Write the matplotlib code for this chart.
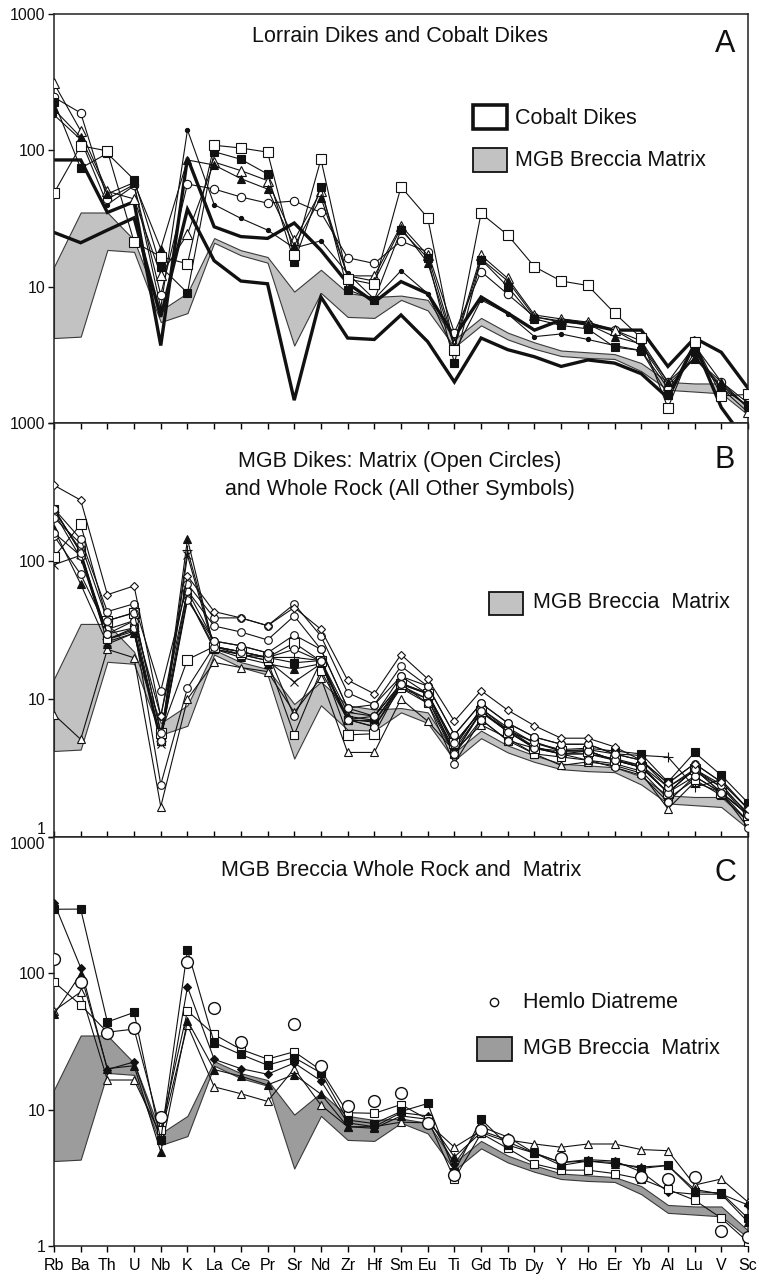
import matplotlib
matplotlib.use('Agg')
import matplotlib.pyplot as plt
import numpy as np
from matplotlib.patches import Rectangle
from matplotlib.lines import Line2D
from matplotlib.ticker import FixedLocator, NullLocator, FixedFormatter

plt.rcParams['font.family'] = ['Liberation Sans', 'DejaVu Sans']

# ---------------- data ----------------
ELEMENTS = ['Rb', 'Ba', 'Th', 'U', 'Nb', 'K', 'La', 'Ce', 'Pr', 'Sr', 'Nd', 'Zr', 'Hf', 'Sm',
            'Eu', 'Ti', 'Gd', 'Tb', 'Dy', 'Y', 'Ho', 'Er', 'Yb', 'Al', 'Lu', 'V', 'Sc']
YTICKS = [1, 10, 100, 1000]
YTICK_LABELS = ['1', '10', '100', '1000']

# MGB Breccia Matrix envelope
BAND_UPPER = [14, 35, 35, 22, 6.7, 9.0, 22.7, 18.5, 16.5, 9.2, 13.3, 9.0, 8.4, 8.6, 8.0,
              4.1, 5.9, 4.6, 3.9, 3.4, 3.3, 3.2, 2.75, 2.0, 1.95, 1.95, 1.3]
BAND_LOWER = [4.2, 4.3, 18.6, 18.0, 5.5, 6.4, 21.0, 17.0, 15.0, 3.7, 9.0, 6.0, 5.9, 8.0, 6.7,
              3.6, 5.2, 4.1, 3.5, 3.1, 3.0, 2.95, 2.4, 1.75, 1.7, 1.65, 1.15]

# Panel A: Cobalt dikes envelope (thick lines)
A_COBALT_UPPER = [85, 85, 35, 42, 3.7, 88, 27.5, 23.3, 22.6, 29.3, 18.5, 10.6, 7.7, 10.9, 8.9,
                  4.3, 8.4, 6.4, 4.8, 5.7, 5.3, 4.8, 4.8, 2.6, 4.2, 3.3, 1.8]
A_COBALT_LOWER = [25, 21, 26, 32, 6.0, 37, 15.5, 11, 10.5, 1.47, 8.4, 4.2, 4.1, 6.2, 3.95,
                  2.0, 4.2, 3.45, 3.06, 2.6, 2.9, 2.75, 2.3, 1.53, 3.8, 1.3, 0.7]
# Panel A: Lorrain dikes samples
A_OPEN_SQUARE = [48.6, 108, 99, 21.3, 16.6, 14.7, 109, 104, 97, 17, 86, 11.4, 10.4, 54, 32,
                 3.45, 34.5, 23.9, 14.0, 11.0, 10.2, 6.4, 4.2, 1.29, 3.9, 1.58, 1.62]
A_FILLED_SQUARE = [227, 74, 95, 61, 14.0, 9.0, 97.7, 86, 67, 15.2, 54, 9.5, 8.0, 26, 16.2,
                   2.75, 15.8, 10, 5.8, 5.2, 4.9, 3.6, 3.4, 1.6, 3.3, 1.8, 1.35]
A_FILLED_TRIANGLE = [200, 125, 48, 58, 19, 85, 78, 62, 52, 20, 45, 12, 11, 27, 15,
                     3.6, 16, 11, 6.0, 5.6, 5.3, 4.3, 3.8, 2.0, 3.0, 2.0, 1.3]
A_OPEN_TRIANGLE = [310, 139, 50, 44, 12.2, 24.3, 82, 71, 60, 22, 50, 12, 12, 28, 17,
                   3.8, 17, 11.5, 6.2, 5.8, 5.5, 4.8, 3.7, 1.9, 3.0, 1.8, 1.2]
A_OPEN_CIRCLE = [245, 188, 44, 56, 8.7, 56.6, 52, 45.5, 41, 42.5, 35, 16.3, 14.8, 21.6, 18.0,
                 4.6, 12.9, 8.8, 6.0, 5.5, 5.3, 4.8, 4.0, 2.0, 3.7, 2.0, 1.4]
A_SMALL_DOT = [182, 120, 40, 55, 7.0, 141, 40, 31.7, 26, 19.2, 21.7, 12.5, 8.1, 13.1, 8.9,
               3.3, 8.0, 6.3, 4.3, 4.5, 4.1, 3.7, 3.4, 1.8, 3.0, 1.9, 1.3]

# Panel B: MGB dikes
B_DIAMOND = [354, 276, 57, 66, 7.5, 78, 43, 38.7, 34, 46, 32, 13.7, 10.9, 21, 14,
             6.9, 11.5, 8.3, 6.4, 5.2, 5.2, 4.5, 3.6, 2.45, 3.4, 2.5, 1.6]
B_CIRCLE_1 = [239, 144, 43, 49, 11.5, 68, 38.7, 38.7, 34, 48.7, 28.6, 11.1, 9.1, 17.3, 12.4,
              5.5, 9.3, 6.7, 5.3, 4.7, 4.7, 4.0, 3.6, 2.3, 3.1, 2.4, 1.45]
B_CIRCLE_2 = [206, 133, 37, 42, 5.7, 61, 33.8, 30.6, 26.8, 40, 22.9, 8.6, 7.5, 14.6, 10.9,
              4.8, 8.2, 5.8, 4.9, 4.2, 4.2, 3.6, 3.2, 2.1, 2.75, 2.1, 1.45]
B_CIRCLE_3 = [152, 80, 32, 37, 5.0, 52, 26.3, 24.3, 21.6, 7.5, 18.8, 7.1, 6.3, 12.8, 9.3,
              3.4, 7.1, 5.0, 4.4, 4.0, 3.6, 3.2, 2.8, 1.8, 2.75, 2.1, 1.17]
B_CIRCLE_4 = [160, 109, 29.6, 32.8, 2.4, 12.0, 24, 22, 20, 22.9, 18.8, 7.1, 7.5, 12.8, 10.9,
              4.0, 8.2, 5.8, 4.4, 4.0, 4.2, 3.6, 3.2, 2.1, 3.1, 2.1, 1.45]
B_CIRCLE_5 = [239, 115, 29.6, 36.9, 7.5, 60.6, 26.3, 24.3, 21.6, 29.1, 22.9, 8.6, 9.1, 14.6, 12.4,
              5.5, 9.3, 6.7, 5.3, 4.7, 4.7, 4.0, 3.6, 2.45, 3.4, 2.5, 1.6]
B_OPEN_SQUARE_1 = [107, 184, 36.9, 42.3, 5.7, 19.3, 24, 22, 20, 25.5, 18.8, 5.5, 5.6, 12.8, 10.9,
                   4.8, 8.2, 5.8, 4.4, 4.2, 4.2, 3.6, 3.2, 2.1, 3.1, 2.1, 1.45]
B_OPEN_SQUARE_2 = [230, 120, 27, 32.8, 5.0, 55, 23, 21, 19, 5.5, 16, 7.1, 6.3, 12, 9.3,
                   4.0, 7.1, 5.0, 4.0, 3.8, 3.6, 3.4, 3.0, 1.9, 2.6, 2.0, 1.3]
B_FILLED_SQUARE = [240, 115, 27, 32, 5.2, 55, 24, 22, 20, 18.3, 19, 7.1, 6.8, 13, 11,
                   4.5, 8.5, 6.0, 4.8, 4.3, 4.4, 4.2, 4.0, 2.5, 4.1, 2.8, 1.77]
B_FILLED_TRIANGLE = [170, 68, 25, 30, 5.0, 144, 23, 20, 18, 16.5, 18, 7.5, 7, 12.5, 10,
                     4.3, 8, 6, 4.5, 4.0, 4.0, 3.7, 3.3, 2.1, 3.1, 2.3, 1.5]
B_CROSS = [94, 110, 26, 30, 4.7, 110, 23, 21, 19, 13.3, 18, 7, 7, 12, 10,
           4, 8, 5.8, 4.5, 4.0, 4.0, 3.6, 3.3, 2.3, 3.0, 2.3, 1.4]
B_PLUS = [225, 105, 27, 31, 5.0, 120, 24, 21, 20, 20, 19, 8, 7.5, 13, 11,
          4.5, 8.5, 6.2, 4.8, 4.2, 4.3, 4.0, 3.9, 3.8, 2.3, 2.6, 1.6]
B_OPEN_TRIANGLE = [7.7, 5.1, 22.9, 19.9, 1.66, 10, 18.4, 16.9, 15.8, 8, 14.2, 4.1, 4.1, 10, 6.9,
                   4.2, 6.5, 5.2, 4.0, 3.3, 3.5, 3.3, 2.9, 1.6, 2.5, 2.1, 1.3]

# Panel C: MGB breccia whole rock and matrix
C_FILLED_SQUARE = [295, 296, 44, 51.7, 6.0, 148, 31, 25.4, 21.2, 24.1, 18.6, 8.4, 7.9, 9.7, 11.1,
                   3.5, 8.5, 5.5, 4.8, 3.9, 4.2, 4.1, 3.7, 3.9, 2.5, 2.45, 1.6]
C_OPEN_SQUARE = [86.6, 58.5, 37, 39, 7.1, 53, 35.6, 27.7, 23.5, 26.6, 19.5, 9.5, 9.4, 10.9, 8.5,
                 3.1, 6.7, 5.2, 4.0, 3.6, 3.6, 3.4, 3.1, 2.6, 2.17, 1.6, 1.07]
C_OPEN_TRIANGLE = [53, 73, 16.5, 16.5, 6.5, 41.8, 14.7, 13.1, 11.5, 20, 10.8, 7.5, 7.5, 8.1, 8.0,
                   5.3, 7.0, 6.0, 5.6, 5.3, 5.6, 5.6, 5.1, 5.0, 2.8, 3.1, 2.1]
C_FILLED_TRIANGLE = [50, 99, 20, 21, 4.9, 45, 19.7, 17.6, 15.2, 18.1, 13, 7.5, 7.3, 9, 8.5,
                     4.5, 6.8, 5.8, 4.8, 4.1, 4.2, 4.0, 3.8, 3.9, 2.6, 2.4, 1.5]
C_FILLED_DIAMOND = [330, 110, 19.7, 22.4, 6.0, 79.6, 23.4, 20, 18.2, 22, 16.3, 8, 7.5, 9.5, 9,
                    4, 7.5, 6.3, 4.8, 4.1, 4.3, 4.2, 3.5, 2.5, 2.4, 2.4, 2.0]
C_HEMLO = [128, 86.6, 36.6, 39.5, 8.9, 121.6, 56, 31.5, np.nan, 42.5, 20.9, 10.6, 11.5, 13.3, 8.0,
           3.3, 7.1, 6.0, np.nan, 4.4, np.nan, np.nan, 3.2, 3.1, 3.2, 1.29, 1.17]

# ---------------- figure ----------------
W, H = 757, 1275
fig = plt.figure(figsize=(W / 100, H / 100), dpi=100)
LEFT, RIGHT = 54, 748


def make_ax(top, bottom):
    return fig.add_axes([LEFT / W, 1 - bottom / H, (RIGHT - LEFT) / W, (bottom - top) / H])


axA = make_ax(14, 423)
axB = make_ax(423, 837)
axC = make_ax(837, 1246)

xs = np.arange(len(ELEMENTS))
for ax in (axA, axB, axC):
    ax.set_yscale('log')
    ax.set_ylim(1, 1000)
    ax.set_xlim(0, len(ELEMENTS) - 1)
    ax.yaxis.set_major_locator(FixedLocator(YTICKS))
    ax.yaxis.set_minor_locator(NullLocator())
    ax.set_xticks(xs)
    ax.tick_params(axis='y', which='major', direction='out', length=4, width=1.0,
                   labelsize=11.5, pad=2, right=False, colors='#111111')
    for s in ax.spines.values():
        s.set_linewidth(1.1)
        s.set_color('#222222')

axA.yaxis.set_major_formatter(FixedFormatter(['', '10', '100', '1000']))
axB.yaxis.set_major_formatter(FixedFormatter(YTICK_LABELS))
axC.yaxis.set_major_formatter(FixedFormatter(YTICK_LABELS))

axA.tick_params(axis='x', bottom=False, top=False, labelbottom=False)
axB.tick_params(axis='x', direction='in', bottom=True, top=True, length=4, width=1.0,
                labelbottom=False)
axC.tick_params(axis='x', direction='out', bottom=True, top=False, length=4, width=1.0,
                labelsize=11.5, pad=5)
axC.set_xticklabels(ELEMENTS)

axB.yaxis.get_major_ticks()[0].label1.set_va('bottom')
axC.yaxis.get_major_ticks()[3].label1.set_va('top')

LIGHT = '#c2c2c2'
DARK = '#9c9c9c'


def band(ax, color):
    ax.fill_between(xs, BAND_LOWER, BAND_UPPER, facecolor=color, edgecolor='#3a3a3a',
                    linewidth=0.8, zorder=1)


def series(ax, vals, marker, ms, filled, lw=0.8, zorder=3):
    ax.plot(xs, vals, color='#111111', lw=lw, marker=marker, ms=ms,
            mfc='#111111' if filled else 'white', mec='#111111', mew=0.8, zorder=zorder)


# Panel A
band(axA, LIGHT)
axA.plot(xs, A_COBALT_UPPER, color='#111111', lw=2.4, zorder=2, solid_joinstyle='miter')
axA.plot(xs, A_COBALT_LOWER, color='#111111', lw=2.4, zorder=2, solid_joinstyle='miter')
series(axA, A_SMALL_DOT, 'o', 3, True)
series(axA, A_OPEN_CIRCLE, 'o', 6, False)
series(axA, A_OPEN_TRIANGLE, '^', 6.5, False)
series(axA, A_FILLED_TRIANGLE, '^', 6, True)
series(axA, A_FILLED_SQUARE, 's', 5.5, True)
series(axA, A_OPEN_SQUARE, 's', 6.5, False)

# Panel B
band(axB, LIGHT)
series(axB, B_OPEN_TRIANGLE, '^', 6, False)
series(axB, B_CROSS, 'x', 6, False)
series(axB, B_PLUS, '+', 7, False)
series(axB, B_FILLED_TRIANGLE, '^', 6, True)
series(axB, B_FILLED_SQUARE, 's', 5.5, True)
series(axB, B_OPEN_SQUARE_2, 's', 6, False)
series(axB, B_OPEN_SQUARE_1, 's', 6.5, False)
series(axB, B_CIRCLE_3, 'o', 5.5, False)
series(axB, B_CIRCLE_4, 'o', 5.5, False)
series(axB, B_CIRCLE_5, 'o', 5.5, False)
series(axB, B_CIRCLE_2, 'o', 5.5, False)
series(axB, B_CIRCLE_1, 'o', 5.5, False)
series(axB, B_DIAMOND, 'D', 4.5, False)

# Panel C
band(axC, DARK)
series(axC, C_OPEN_TRIANGLE, '^', 6, False)
series(axC, C_FILLED_TRIANGLE, '^', 5.5, True)
series(axC, C_FILLED_DIAMOND, 'D', 4.5, True)
series(axC, C_OPEN_SQUARE, 's', 6, False)
series(axC, C_FILLED_SQUARE, 's', 5.5, True)
axC.plot(xs, C_HEMLO, linestyle='none', marker='o', ms=8.5, mfc='white', mec='#111111',
         mew=1.0, zorder=4)


# ---------------- annotations ----------------
def ftext(x, y, s, size=15.5, ha='left', **kw):
    fig.text(x / W, 1 - y / H, s, fontsize=size, ha=ha, va='center', color='#111111', **kw)


def fbox(x0, y0, x1, y1, fc, lw):
    fig.add_artist(Rectangle((x0 / W, 1 - y1 / H), (x1 - x0) / W, (y1 - y0) / H,
                             transform=fig.transFigure, facecolor=fc, edgecolor='#111111',
                             linewidth=lw, zorder=10))


ftext(400, 37, 'Lorrain Dikes and Cobalt Dikes', ha='center')
ftext(725, 44, 'A', size=22, ha='center')
fbox(473, 105, 507, 129, 'white', 2.6)
ftext(515, 118, 'Cobalt Dikes')
fbox(473, 148, 507, 172, LIGHT, 1.3)
ftext(515, 160, 'MGB Breccia Matrix')

ftext(400, 461, 'MGB Dikes: Matrix (Open Circles)', ha='center')
ftext(400, 489, 'and Whole Rock (All Other Symbols)', ha='center')
ftext(725, 460, 'B', size=22, ha='center')
fbox(489, 592, 523, 615, LIGHT, 1.3)
ftext(533, 603, 'MGB Breccia  Matrix')

ftext(401, 871, 'MGB Breccia Whole Rock and  Matrix', ha='center')
ftext(725, 873, 'C', size=22, ha='center')
fig.add_artist(Line2D([494 / W], [1 - 1002 / H], transform=fig.transFigure, marker='o',
                      ms=6, mfc='white', mec='#111111', mew=1.0, linestyle='none'))
ftext(523, 1002, 'Hemlo Diatreme')
fbox(477, 1037, 512, 1061, DARK, 1.3)
ftext(523, 1049, 'MGB Breccia  Matrix')

fig.savefig('out.png', dpi=100)
